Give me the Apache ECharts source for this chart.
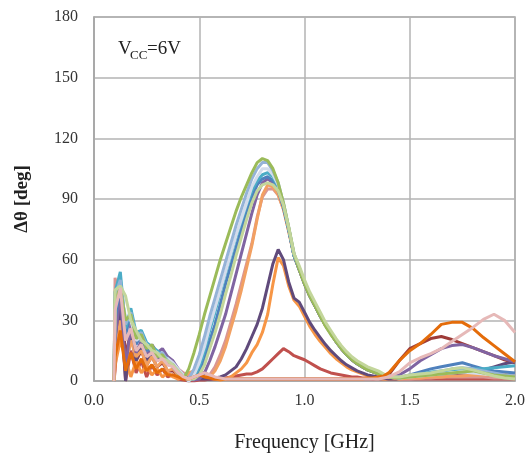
<!DOCTYPE html>
<html><head><meta charset="utf-8">
<script src="https://cdn.jsdelivr.net/npm/echarts@6/dist/echarts.min.js"></script>
<style>html,body{margin:0;padding:0;background:#fff}#c{width:526px;height:455px}</style>
</head><body><div id="c"></div>
<script>
// Frequency points [GHz]
const freq = [0.095,0.100,0.125,0.150,0.175,0.200,0.225,0.250,0.275,0.300,0.325,0.350,0.375,0.400,0.425,0.450,
  0.475,0.500,0.525,0.550,0.575,0.600,0.625,0.650,0.675,0.700,0.725,0.750,0.775,0.800,0.825,0.850,0.875,0.900,0.925,0.950,0.975,
  1.000,1.025,1.050,1.075,1.100,1.125,1.150,1.175,1.200,1.225,1.250,1.275,1.300,1.325,1.350,1.375,1.400,
  1.45,1.50,1.55,1.60,1.65,1.70,1.75,1.80,1.85,1.90,1.95,2.00];

const sGreen = [0,40,46,30,33,21,23,16,18,12,13,9,8,4,1,6,
  14,23,33,42,51,60,68,76,84,91,97,103,108,
  110,109,105,98,88,76,63,55,48,42,37,32,27,23,19.5,16,13,10.5,8.5,7,5.5,4.5,3.5,2.5,2,
  1.5,2,2.5,3,3.5,4,4.5,5,4,3,2.5,2];
const sLightBlue = [0,42,50,28,34,22,24,17,17,13,14,10,8,5,2,1,
  6,13,22,32,41,50,59,68,77,85,93,100,105,
  108,108,104,98,88,76,63,56,49,43,38,33,28,24,20,16.5,13.5,11,9,7.5,6,5,4,3,2.5,
  2,3,3.5,4,5,6,6.5,6,5,4,3,2.5];
const sLavender = [0,38,44,32,30,20,22,18,16,14,12,11,9,6,3,0,
  3,9,17,27,36,45,54,63,72,80,88,96,101,
  105,105,102,97,88,76,63,56,49,43,38,33,28,24,20,16.5,13.5,11,9,7.5,6,5,4,3,2.5,
  1.5,2,2.5,3,3.5,4,4.5,4,3.5,3,2.5,2];
const sTeal = [0,44,54,26,36,24,25,19,17,15,13,11,7,5,2,0,
  2,7,15,25,34,44,53,62,71,79,87,94,99,
  102,103,101,96,87,75,62,56,49,43,38,33,28,24,20,16.5,13.5,11,9,7.5,6,5,4,3,2.5,
  1.5,2.5,3.5,4.5,5,5.5,6,6,6,6.5,7,7.5];
const sBlue = [0,30,48,22,35,18,23,15,16,12,12,9,7,4,2,1,
  1,4,11,20,28,38,48,57,66,75,84,91,97,
  100,101,99,95,86,75,62,55,48,42,37,32,27.5,23.5,19.5,16,13,10.5,8.5,7,5.5,4.5,3.5,2.5,2,
  1.5,3,4.5,6,7,8,9,7.5,6,5,4.5,4];
const sPurple = [0,20,44,6,28,14,20,12,18,14,16,12,10,6,3,1,
  0.5,1,4,10,17,25,33,43,53,63,73,83,92,
  98,100,98,94,86,75,62,55,48,42,37,32,27.5,23.5,19.5,16,13,10.5,8.5,7,5.5,4.5,3.5,3,2.5,
  3,6,10,13,16,17.5,18,16.5,14.5,12.5,11,9.5];
const sLightGreen = [0,45,47,42,30,25,20,18,15,14,11,10,8,5,2,1,
  1,3,8,16,24,33,43,52,62,71,80,88,94,
  97,98,97,94,87,76,63,57,50,44,39,34,29,25,21,17.5,14.5,12,10,8.5,7,6,5,3.5,2,
  2,3,3.5,4,5,6,6.5,5.5,4,2.5,1.5,1];
const sLightOrange = [0,10,30,8,20,12,15,8,12,7,10,5,6,3,2,4,
  5,4,3,2,5,10,17,26,35,45,56,67,80,
  92,97,96,92,85,74,62,55,48,42,37,32,27.5,23.5,19.5,16,13,10.5,8.5,7,5.5,4.5,3.5,2.5,2,
  1,1.5,1.5,2,2,2.5,2.5,3,3,3,3.5,3.5];
const sPink = [0,51,40,30,28,20,22,16,17,14,13,12,9,6,4,3,
  4,5,4,3,7,13,20,29,38,48,58,68,81,
  91,95,95,92,85,74,62,55,48,42,37,32,27.5,23.5,19.5,16,13,10.5,8.5,7,5.5,4.5,3.5,2.5,2,
  1,1,1.5,1.5,2,2,2,2,2,1.5,1.5,1.5];
const sDarkPurple = [0,15,38,0,25,10,18,10,14,10,12,8,8,4,2,1,
  1,1,1,1,1.5,2,3,5,7,11,16,22,28,
  36,47,58,65,60,49,41,39,34,29,25,21.5,18,15,12.5,10,8,6.5,5,4,3,2.5,2,1.5,1,
  1,1.5,2,2.5,3,3.5,4,4.5,5.5,7,8.5,9.5];
const sOrange = [0,8,20,11,2,10,4,8,3,6,2,4,2,1,2,3,
  4,3,2,1.5,1,0.5,1,2,4,6,9,14,18,
  24,33,48,61,57,47,40,37,32,27,23,19.5,16.5,13.5,11,9,7,5.5,4.5,3.5,2.5,2,1.5,1,1,
  1,1.5,1.5,2,2,2.5,2.5,2.5,3,3,3,3];
const sRed = [0,5,42,0,15,4,10,2,8,3,6,2,3,1,0.5,0,
  0,0.5,0.5,1,1,1,1.5,2,2.5,3,3.5,3.5,4.5,
  6,8.5,11,13.5,16,14.5,12.5,11.5,10.5,9,7.5,6,5,4,3.5,3,2.5,2,2,1.5,1.5,1,1,1,1,
  1,1,1,1,1,1,1,1,1,1,1,1];
const sDarkOrange = [0,12,25,5,14,6,11,5,8,4,6,3,3,2,1,1,
  2,3,2,1.5,1,1,1,1,1,1,1,1,1,
  1,1,1,1,1,1,1,1,1,1,1,1,1,1,1,1,1,1,1,1,1.5,1.5,2,2.5,4,
  10,15,18.5,23,28,29,29,26,21.5,17.5,13.5,9.5];
const sDarkRed = [0,30,48,12,25,10,15,8,12,7,9,5,5,3,1,1,
  1,1,1,1,1,1,1,1,1,1,1,1,1,
  1,1,1,1,1,1,1,1,1,1,1,1,1,1,1,1,1,1,1,1,1,1,1.5,2,3,
  10,16,18.5,21,22,20.5,18.5,16.5,14.5,12.5,10.5,9];
const sPalePink = [0,35,46,20,26,15,18,12,14,10,11,8,7,4,2,1,
  2,3,4,3,2,1.5,1,1,1,1,1,1,1,
  1,1,1,1,1,1,1,1,1,1,1,1,1,1,1,1,1,1,1,1,1,1,1,1.5,2,
  4.5,9,11.5,13.5,16,19.5,23,26.5,30.5,33,30,24];

const xTicks = ['0.0','0.5','1.0','1.5','2.0'];
const yTicks = [0,30,60,90,120,150,180];

// draw order (later on top) and colours
const seriesList = [
  [sDarkRed,'#9E3B38'], [sRed,'#C0504D'], [sOrange,'#F79646'], [sDarkPurple,'#604A7B'],
  [sPink,'#D99694'], [sLightOrange,'#F2A062'], [sPurple,'#8064A2'], [sBlue,'#4F81BD'],
  [sTeal,'#4BACC6'], [sLavender,'#D3DCEC'], [sLightBlue,'#95B3D7'], [sGreen,'#9BBB59'],
  [sLightGreen,'#C3D69B'], [sDarkOrange,'#E46C0A'], [sPalePink,'#E6B9B8']
];

const font = 'Liberation Serif, Times New Roman, serif';
const chart = echarts.init(document.getElementById('c'), null, {renderer:'canvas'});
chart.setOption({
  animation: false,
  backgroundColor: '#fff',
  grid: {left: 94, right: 11, top: 17, bottom: 74, show: true, borderColor: '#a6a6a6', borderWidth: 1.5,
    outerBoundsMode: 'none', containLabel: false},
  xAxis: {
    type: 'value', min: 0, max: 2, interval: 0.5,
    name: 'Frequency [GHz]', nameLocation: 'middle', nameGap: 52,
    nameTextStyle: {fontFamily: font, fontSize: 20, color: '#222'},
    axisLine: {show: true, lineStyle: {color: '#a6a6a6', width: 1.5}},
    axisTick: {show: false},
    axisLabel: {fontFamily: font, fontSize: 16, color: '#333', margin: 12,
      formatter: v => xTicks[Math.round(v/0.5)] },
    splitLine: {show: true, lineStyle: {color: '#b3b3b3', width: 1.5}}
  },
  yAxis: {
    type: 'value', min: 0, max: 180, interval: 30,
    name: 'Δθ [deg]', nameLocation: 'middle', nameGap: 62, nameRotate: 90,
    nameTextStyle: {fontFamily: font, fontSize: 19, fontWeight: 'bold', color: '#222'},
    axisLine: {show: true, lineStyle: {color: '#a6a6a6', width: 1.5}},
    axisTick: {show: false},
    axisLabel: {fontFamily: font, fontSize: 16, color: '#333', margin: 16,
      formatter: v => String(yTicks[Math.round(v/30)]) },
    splitLine: {show: true, lineStyle: {color: '#b3b3b3', width: 1.5}}
  },
  graphic: [
    {type: 'text', left: 118, top: 40, style: {text: 'V', font: '19px ' + font, fill: '#222'}},
    {type: 'text', left: 130, top: 49, style: {text: 'CC', font: '13px ' + font, fill: '#222'}},
    {type: 'text', left: 147, top: 40, style: {text: '=6V', font: '19px ' + font, fill: '#222'}}
  ],
  series: seriesList.map(([vals, color]) => ({
    type: 'line', showSymbol: false, symbol: 'none', silent: true,
    data: freq.map((f, i) => [f, vals[i]]),
    lineStyle: {color: color, width: 3},
    itemStyle: {color: color}
  }))
});
</script></body></html>
